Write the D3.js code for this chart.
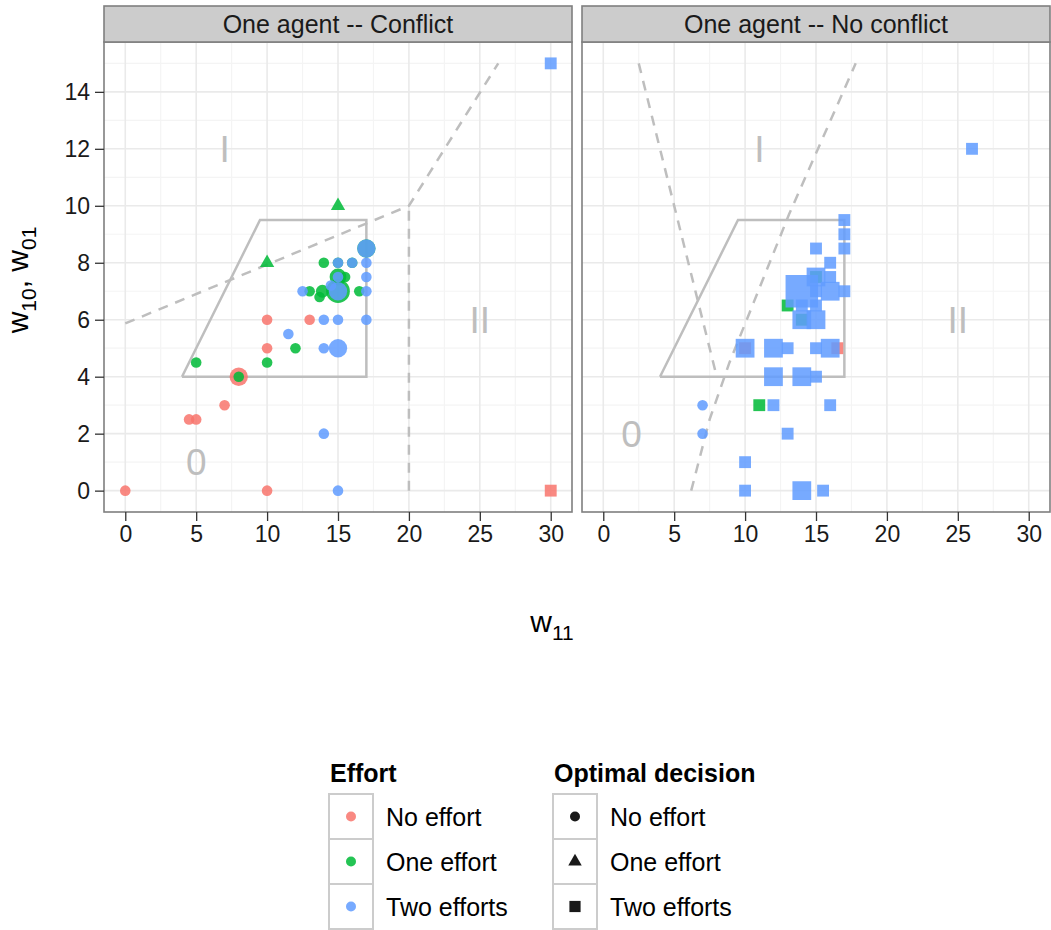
<!DOCTYPE html>
<html>
<head>
<meta charset="utf-8">
<script src="https://cdn.jsdelivr.net/npm/d3@7"></script>
<style>
  body { margin: 0; background: #fff; }
  text { font-family: "Liberation Sans", Arial, sans-serif; }
</style>
</head>
<body>
<div id="chart"></div>
<script>
// facet titles, scale levels, ticks
const facetTitles = ["One agent -- Conflict", "One agent -- No conflict"];
const effortLabels = ["No effort", "One effort", "Two efforts"];
const decisionLabels = ["No effort", "One effort", "Two efforts"];
const xTicks = [0, 5, 10, 15, 20, 25, 30];
const yTicks = [0, 2, 4, 6, 8, 10, 12, 14];

// [w11, w10/w01, effort (0,1,2), optimal decision (0,1,2), weight]
const conflictPoints = [
  [0, 0, 0, 0, 1], [10, 0, 0, 0, 1], [4.5, 2.5, 0, 0, 1], [5, 2.5, 0, 0, 1],
  [7, 3, 0, 0, 1], [8, 4, 0, 0, 3], [10, 5, 0, 0, 1], [10, 6, 0, 0, 1],
  [13, 6, 0, 0, 1], [30, 0, 0, 2, 1],
  [8, 4, 1, 0, 1], [5, 4.5, 1, 0, 1], [10, 4.5, 1, 0, 1], [12, 5, 1, 0, 1],
  [13, 7, 1, 0, 1], [13.7, 6.8, 1, 0, 1], [13.9, 7, 1, 0, 1.5], [15, 7, 1, 0, 5],
  [16.5, 7, 1, 0, 1], [15, 7.5, 1, 0, 2.5], [15.5, 7.5, 1, 0, 1], [14, 8, 1, 0, 1],
  [15, 8, 1, 0, 1], [16, 8, 1, 0, 1], [17, 8.5, 1, 0, 3],
  [10, 8, 1, 1, 1], [15, 10, 1, 1, 1],
  [15, 0, 2, 0, 1], [14, 2, 2, 0, 1], [14, 5, 2, 0, 1], [15, 5, 2, 0, 3],
  [11.5, 5.5, 2, 0, 1], [14, 6, 2, 0, 1], [15, 6, 2, 0, 1], [17, 6, 2, 0, 1],
  [12.5, 7, 2, 0, 1], [14.5, 7.2, 2, 0, 1], [15, 7, 2, 0, 3], [17, 7, 2, 0, 1],
  [15, 7.5, 2, 0, 1], [17, 7.5, 2, 0, 1], [15, 8, 2, 0, 1], [16, 8, 2, 0, 1],
  [17, 8, 2, 0, 1], [17, 8.5, 2, 0, 3], [30, 15, 2, 2, 1]
];

const noConflictPoints = [
  [10, 5, 0, 2, 1], [16.5, 5, 0, 2, 1],
  [11, 3, 1, 2, 1], [13, 6.5, 1, 2, 1], [14, 6, 1, 2, 1], [15, 7.5, 1, 2, 1],
  [7, 3, 2, 0, 1], [7, 2, 2, 0, 1],
  [26, 12, 2, 2, 1], [17, 9.5, 2, 2, 1], [17, 9, 2, 2, 1], [17, 8.5, 2, 2, 1],
  [15, 8.5, 2, 2, 1], [16, 8, 2, 2, 1], [15, 7.5, 2, 2, 2.5], [16, 7.5, 2, 2, 1],
  [14, 7, 2, 2, 7.5], [15, 7, 2, 2, 1], [16, 7, 2, 2, 2.5], [17, 7, 2, 2, 1],
  [14, 6.5, 2, 2, 1], [15, 6.5, 2, 2, 1], [14, 6, 2, 2, 2.5], [15, 6, 2, 2, 2.5],
  [10, 5, 2, 2, 2.5], [12, 5, 2, 2, 2.5], [13, 5, 2, 2, 1], [15, 5, 2, 2, 1],
  [16, 5, 2, 2, 2.5], [12, 4, 2, 2, 2.5], [14, 4, 2, 2, 2.5], [15, 4, 2, 2, 1],
  [12, 3, 2, 2, 1], [16, 3, 2, 2, 1], [13, 2, 2, 2, 1], [10, 1, 2, 2, 1],
  [10, 0, 2, 2, 1], [14, 0, 2, 2, 2.5], [15.5, 0, 2, 2, 1]
];

// region outlines
const trapezoid = [[4, 4], [9.5, 9.5], [17, 9.5], [17, 4], [4, 4]];
const conflictDashed = [
  [[0, 5.87], [20, 10], [26.3, 15]],
  [[20, 0], [20, 10]]
];
const noConflictDashed = [
  [[2.5, 15], [8, 4]],
  [[6.2, 0], [7.5, 2.5], [8.9, 4.5], [10.6, 6.6], [13.1, 9.7], [17.8, 15]]
];
const conflictRegions = [["I", 7, 12], ["II", 25, 6], ["0", 5, 1]];
const noConflictRegions = [["I", 11, 12], ["II", 25, 6], ["0", 2, 2]];

const panelData = [
  { points: conflictPoints, dashed: conflictDashed, regions: conflictRegions },
  { points: noConflictPoints, dashed: noConflictDashed, regions: noConflictRegions }
];

const W = 1051, H = 930;
const svg = d3.select("#chart").append("svg")
  .attr("width", W).attr("height", H);

const stripTop = 6, panelTop = 42, panelBottom = 512;
const panelsX = [[104, 572], [582, 1050]];
const effortColors = ["#F8766D", "#00BA38", "#619CFF"];
const guideGrey = "#BEBEBE";
const pointAlpha = 0.86;

const y = d3.scaleLinear().domain([-0.75, 15.75]).range([panelBottom, panelTop]);
const size = d3.scaleSqrt().domain([0, 1]).range([0, 5.3]);

function shapePath(shape, r) {
  if (shape === 0) return d3.symbol(d3.symbolCircle, Math.PI * r * r)();
  if (shape === 2) { const s = 2.24 * r; return d3.symbol(d3.symbolSquare, s * s)(); }
  const s = 2.7 * r;
  return d3.symbol(d3.symbolTriangle, Math.sqrt(3) / 4 * s * s)();
}

panelData.forEach((pd, i) => {
  const [x0, x1] = panelsX[i];
  const x = d3.scaleLinear().domain([-1.5, 31.5]).range([x0, x1]);
  const g = svg.append("g");

  g.append("clipPath").attr("id", "clip" + i)
    .append("rect").attr("x", x0).attr("y", panelTop)
    .attr("width", x1 - x0).attr("height", panelBottom - panelTop);

  g.append("rect").attr("x", x0).attr("y", panelTop)
    .attr("width", x1 - x0).attr("height", panelBottom - panelTop)
    .attr("fill", "#fff");

  // grid
  const minorX = d3.range(2.5, 31, 5);
  const minorY = d3.range(1, 16, 2);
  g.selectAll(".mx").data(minorX).enter().append("line")
    .attr("x1", d => x(d)).attr("x2", d => x(d))
    .attr("y1", panelTop).attr("y2", panelBottom)
    .attr("stroke", "#F4F4F4").attr("stroke-width", 1.2);
  g.selectAll(".my").data(minorY).enter().append("line")
    .attr("y1", d => y(d)).attr("y2", d => y(d))
    .attr("x1", x0).attr("x2", x1)
    .attr("stroke", "#F4F4F4").attr("stroke-width", 1.2);
  g.selectAll(".gx").data(xTicks).enter().append("line")
    .attr("x1", d => x(d)).attr("x2", d => x(d))
    .attr("y1", panelTop).attr("y2", panelBottom)
    .attr("stroke", "#EAEAEA").attr("stroke-width", 1.6);
  g.selectAll(".gy").data(yTicks).enter().append("line")
    .attr("y1", d => y(d)).attr("y2", d => y(d))
    .attr("x1", x0).attr("x2", x1)
    .attr("stroke", "#EAEAEA").attr("stroke-width", 1.6);

  const inner = g.append("g").attr("clip-path", `url(#clip${i})`);
  const line = d3.line().x(d => x(d[0])).y(d => y(d[1]));

  // region labels
  inner.selectAll(".region").data(pd.regions).enter().append("text")
    .attr("x", d => x(d[1])).attr("y", d => y(d[2]))
    .attr("dy", "0.36em")
    .attr("text-anchor", "middle")
    .attr("font-size", 37)
    .attr("fill", guideGrey)
    .text(d => d[0]);

  inner.append("path").attr("d", line(trapezoid))
    .attr("fill", "none").attr("stroke", guideGrey).attr("stroke-width", 2.5);

  inner.selectAll(".dash").data(pd.dashed).enter().append("path")
    .attr("d", line)
    .attr("fill", "none").attr("stroke", guideGrey)
    .attr("stroke-width", 2.5).attr("stroke-dasharray", "10,8");

  // points
  inner.selectAll(".pt").data(pd.points).enter().append("path")
    .attr("transform", d => `translate(${x(d[0])},${y(d[1])})`)
    .attr("d", d => shapePath(d[3], size(d[4])))
    .attr("fill", d => effortColors[d[2]])
    .attr("fill-opacity", pointAlpha);

  // border
  g.append("rect").attr("x", x0).attr("y", panelTop)
    .attr("width", x1 - x0).attr("height", panelBottom - panelTop)
    .attr("fill", "none").attr("stroke", "#7F7F7F").attr("stroke-width", 1.6);

  // strip
  g.append("rect").attr("x", x0).attr("y", stripTop)
    .attr("width", x1 - x0).attr("height", panelTop - stripTop)
    .attr("fill", "#CCCCCC").attr("stroke", "#7F7F7F").attr("stroke-width", 1.6);
  g.append("text").attr("x", (x0 + x1) / 2).attr("y", (stripTop + panelTop) / 2)
    .attr("dy", "0.36em").attr("text-anchor", "middle")
    .attr("font-size", 25).attr("fill", "#1a1a1a")
    .text(facetTitles[i]);

  // x axis
  const xa = g.append("g").attr("transform", `translate(0,${panelBottom})`)
    .call(d3.axisBottom(x).tickValues(xTicks).tickSize(9).tickPadding(5));
  xa.select(".domain").remove();
  xa.selectAll(".tick line").attr("stroke", "#333").attr("stroke-width", 1.3);
  xa.selectAll(".tick text").attr("font-size", 23).attr("fill", "#1a1a1a")
    .attr("font-family", "Liberation Sans, Arial, sans-serif");

  if (i === 0) {
    const ya = g.append("g").attr("transform", `translate(${x0},0)`)
      .call(d3.axisLeft(y).tickValues(yTicks).tickSize(9).tickPadding(5));
    ya.select(".domain").remove();
    ya.selectAll(".tick line").attr("stroke", "#333").attr("stroke-width", 1.3);
    ya.selectAll(".tick text").attr("font-size", 23).attr("fill", "#1a1a1a")
      .attr("font-family", "Liberation Sans, Arial, sans-serif");
  }
});

// axis titles
const xt = svg.append("text").attr("x", 552).attr("y", 632)
  .attr("text-anchor", "middle").attr("font-size", 30).attr("fill", "#000");
xt.append("tspan").text("w");
xt.append("tspan").attr("font-size", 21).attr("dy", 8).text("11");

const yt = svg.append("text")
  .attr("transform", "translate(28,280) rotate(-90)")
  .attr("text-anchor", "middle").attr("font-size", 30).attr("fill", "#000");
yt.append("tspan").text("w");
yt.append("tspan").attr("font-size", 21).attr("dy", 8).text("10");
yt.append("tspan").attr("dy", -8).text(", w");
yt.append("tspan").attr("font-size", 21).attr("dy", 8).text("01");

// legends
function legend(x0, title, labels, keyFn) {
  const lg = svg.append("g");
  lg.append("text").attr("x", x0 + 1).attr("y", 782)
    .attr("font-size", 25).attr("font-weight", "bold").attr("fill", "#000")
    .text(title);
  labels.forEach((lab, k) => {
    const top = 794 + k * 45;
    const key = keyFn(k);
    lg.append("rect").attr("x", x0).attr("y", top)
      .attr("width", 44).attr("height", 45)
      .attr("fill", "#fff").attr("stroke", "#CCCCCC").attr("stroke-width", 2);
    lg.append("path").attr("transform", `translate(${x0 + 22},${top + 22.5})`)
      .attr("d", key.d).attr("fill", key.fill)
      .attr("fill-opacity", key.op);
    lg.append("text").attr("x", x0 + 57).attr("y", top + 22.5)
      .attr("dy", "0.36em").attr("font-size", 25).attr("fill", "#000")
      .text(lab);
  });
}
legend(329, "Effort", effortLabels,
  k => ({ d: shapePath(0, 5), fill: effortColors[k], op: pointAlpha }));
legend(553, "Optimal decision", decisionLabels,
  k => ({ d: shapePath(k, 5), fill: "#000", op: 0.9 }));
</script>
</body>
</html>
